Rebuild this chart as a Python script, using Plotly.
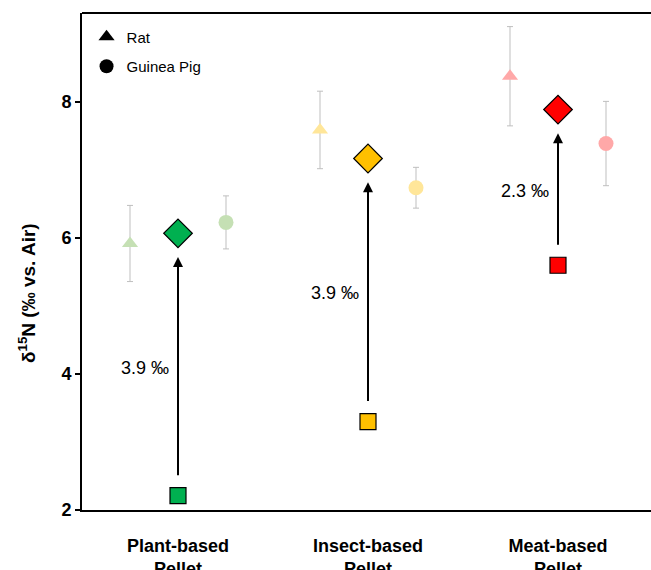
import plotly.graph_objects as go

categories = ["Plant-based<br>Pellet", "Insect-based<br>Pellet", "Meat-based<br>Pellet"]
pellet = [2.21, 3.30, 5.60]
diet_mean = [6.07, 7.17, 7.89]
rat_mean = [5.92, 7.59, 8.38]
rat_err = [0.56, 0.57, 0.73]
gp_mean = [6.23, 6.74, 7.39]
gp_err = [0.39, 0.30, 0.62]
y_ticks = [2, 4, 6, 8]

dark = ["#00B050", "#FFC000", "#FF0000"]
light = ["#C5E0B4", "#FFE699", "#FFA8A8"]

FONT = "Arial, Liberation Sans, sans-serif"
xc = [1, 2, 3]
off = 48 / 190

fig = go.Figure()

fig.add_trace(go.Scatter(
    x=[x - off for x in xc], y=rat_mean, mode="markers", showlegend=False,
    marker=dict(symbol="triangle-up", size=14, color=light, line=dict(width=0)),
    error_y=dict(type="data", array=rat_err, color="#BFBFBF", thickness=1, width=3),
))
fig.add_trace(go.Scatter(
    x=[x + off for x in xc], y=gp_mean, mode="markers", showlegend=False,
    marker=dict(symbol="circle", size=15, color=light, line=dict(width=0)),
    error_y=dict(type="data", array=gp_err, color="#BFBFBF", thickness=1, width=3),
))
fig.add_trace(go.Scatter(
    x=xc, y=diet_mean, mode="markers", showlegend=False,
    marker=dict(symbol="diamond", size=22, color=dark, line=dict(width=1.2, color="black")),
))
fig.add_trace(go.Scatter(
    x=xc, y=pellet, mode="markers", showlegend=False,
    marker=dict(symbol="square", size=16, color=dark, line=dict(width=1.2, color="black")),
))

fig.add_trace(go.Scatter(x=[None], y=[None], mode="markers", name="Rat", legendgroup="a",
                         marker=dict(symbol="triangle-up", size=14, color="black")))
fig.add_trace(go.Scatter(x=[None], y=[None], mode="markers", name="Guinea Pig", legendgroup="b",
                         marker=dict(symbol="circle", size=14, color="black")))

for i, x in enumerate(xc):
    diff = diet_mean[i] - pellet[i]
    fig.add_annotation(
        x=x, y=diet_mean[i] - 0.35, ax=x, ay=pellet[i] + 0.28,
        xref="x", yref="y", axref="x", ayref="y",
        showarrow=True, arrowhead=2, arrowsize=1, arrowwidth=2, arrowcolor="black", text="",
    )
    fig.add_annotation(
        x=x - 0.174, y=(diet_mean[i] + pellet[i]) / 2 - 0.05, xref="x", yref="y",
        text=f"{diff:.1f} ‰", showarrow=False,
        font=dict(family=FONT, size=18, color="black"),
    )

fig.add_annotation(
    x=0, y=(510 - 293) / 497, xref="paper", yref="paper", xshift=-55,
    xanchor="center", yanchor="middle",
    text="<b>δ<sup>15</sup>N (‰ vs. Air)</b>", textangle=-90, showarrow=False,
    font=dict(family=FONT, size=19, color="black"),
)

# Top frame line
fig.add_shape(type="line", xref="paper", yref="paper", x0=0, x1=1, y0=1, y1=1,
              line=dict(color="black", width=2))

fig.update_layout(
    width=651, height=570,
    margin=dict(l=82, r=0, t=13, b=60, autoexpand=False),
    plot_bgcolor="white", paper_bgcolor="white",
    font=dict(family=FONT, size=16, color="black"),
    showlegend=True, dragmode=False, hovermode=False,
    legend=dict(x=0.008, y=0.985, xanchor="left", yanchor="top",
                font=dict(family=FONT, size=15, color="black"),
                bgcolor="rgba(0,0,0,0)", tracegroupgap=7, itemwidth=30),
    xaxis=dict(
        range=[1 - 96 / 190, 3 + 93 / 190], tickmode="array", tickvals=xc,
        ticktext=[f"<b>{c}</b>" for c in categories],
        showgrid=False, zeroline=False, showline=True, linecolor="black", linewidth=2,
        mirror=False, ticks="", ticklabelstandoff=18, automargin=False, fixedrange=True,
        tickfont=dict(family=FONT, size=18, color="black"),
    ),
    yaxis=dict(
        range=[2, 9.31], tickmode="array", tickvals=y_ticks,
        ticktext=[f"<b>{t}</b>" for t in y_ticks],
        showgrid=False, zeroline=False, showline=True, linecolor="black", linewidth=2,
        mirror=False, ticks="outside", ticklen=5, tickwidth=2, tickcolor="black",
        automargin=False, fixedrange=True,
        tickfont=dict(family=FONT, size=18, color="black"),
    ),
)

fig.write_html("out.html", config={"staticPlot": True})
